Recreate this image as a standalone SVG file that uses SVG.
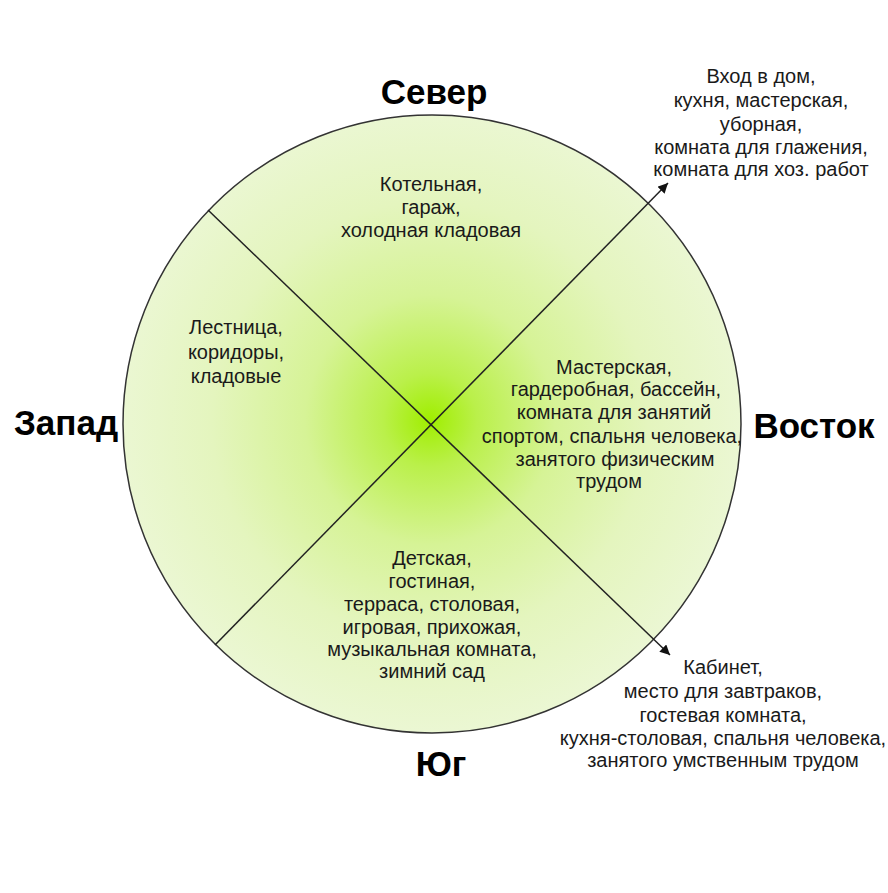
<svg xmlns="http://www.w3.org/2000/svg" width="888" height="893" viewBox="0 0 888 893">
<style>
.t{font-family:"Liberation Sans",Arial,sans-serif;font-size:20px;fill:#1a1a1a;text-anchor:middle}
.h{font-family:"Liberation Sans",Arial,sans-serif;font-size:35px;font-weight:bold;fill:#000;text-anchor:middle}
.ln{stroke:#222;stroke-width:1.5;fill:none}
</style>
<defs>
<radialGradient id="g" cx="430" cy="420" r="312" gradientUnits="userSpaceOnUse">
<stop offset="0" stop-color="#a0ee00"/>
<stop offset="0.15" stop-color="#baf04a"/>
<stop offset="0.4" stop-color="#d6f396"/>
<stop offset="0.7" stop-color="#e4f5be"/>
<stop offset="1" stop-color="#ebf7d3"/>
</radialGradient>
<marker id="arr" viewBox="0 0 10 10" refX="10" refY="5" markerWidth="10" markerHeight="10" markerUnits="userSpaceOnUse" orient="auto">
<path d="M0,0 L10,5 L0,10 z" fill="#111"/>
</marker>
</defs>
<rect width="888" height="893" fill="#fff"/>
<g id="circle">
<circle cx="432" cy="424" r="309" fill="url(#g)" stroke="#333" stroke-width="1.5"/>
</g>
<g id="connectors">
<line class="ln" x1="208" y1="210" x2="670" y2="655" marker-end="url(#arr)"/>
<line class="ln" x1="215" y1="645" x2="668" y2="183" marker-end="url(#arr)"/>
</g>
<g id="north"><text class="h" x="434" y="104">Север</text></g>
<g id="west"><text class="h" x="66" y="435">Запад</text></g>
<g id="east"><text class="h" x="814" y="438">Восток</text></g>
<g id="south"><text class="h" x="441" y="776">Юг</text></g>
<g id="sector-north"><text class="t"><tspan x="431" y="191">Котельная,</tspan><tspan x="431" y="214">гараж,</tspan><tspan x="431" y="237">холодная кладовая</tspan></text></g>
<g id="sector-west"><text class="t"><tspan x="236" y="334">Лестница,</tspan><tspan x="236" y="359">коридоры,</tspan><tspan x="236" y="383">кладовые</tspan></text></g>
<g id="sector-east"><text class="t"><tspan x="614" y="374">Мастерская,</tspan><tspan x="616" y="396">гардеробная, бассейн,</tspan><tspan x="614" y="419">комната для занятий</tspan><tspan x="612" y="443">спортом, спальня человека,</tspan><tspan x="615" y="466">занятого физическим</tspan><tspan x="609" y="488">трудом</tspan></text></g>
<g id="sector-south"><text class="t"><tspan x="432" y="565">Детская,</tspan><tspan x="432" y="588">гостиная,</tspan><tspan x="432" y="611">терраса, столовая,</tspan><tspan x="432" y="634">игровая, прихожая,</tspan><tspan x="432" y="656">музыкальная комната,</tspan><tspan x="432" y="678">зимний сад</tspan></text></g>
<g id="label-ne"><text class="t"><tspan x="761" y="83">Вход в дом,</tspan><tspan x="761" y="107">кухня, мастерская,</tspan><tspan x="761" y="131">уборная,</tspan><tspan x="761" y="154">комната для глажения,</tspan><tspan x="761" y="176">комната для хоз. работ</tspan></text></g>
<g id="label-se"><text class="t"><tspan x="723" y="674">Кабинет,</tspan><tspan x="723" y="698">место для завтраков,</tspan><tspan x="723" y="722">гостевая комната,</tspan><tspan x="723" y="745">кухня-столовая, спальня человека,</tspan><tspan x="723" y="767">занятого умственным трудом</tspan></text></g>
</svg>
